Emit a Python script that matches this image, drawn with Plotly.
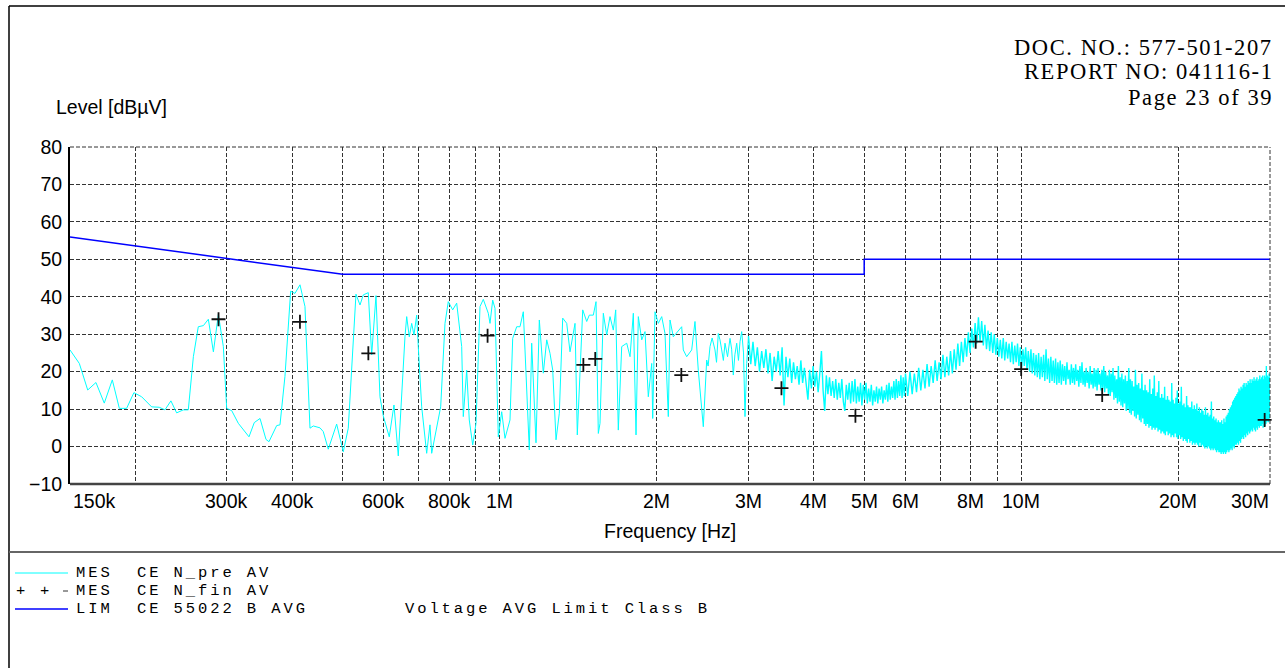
import numpy as np
import plotly.graph_objects as go

W, H = 1285, 668

# ---------------------------------------------------------------------------
# MES CE N_pre AV : pre-scan, 150 kHz ... 3 MHz (kHz, dBµV)
pre_lo_khz = [
    150.0, 156.3, 162.2, 168.2, 174.5, 180.8, 186.5, 192.6, 198.9, 205.8,
    215.1, 222.4, 228.1, 234.2, 240.2, 247.4, 252.9, 258.6, 264.3, 270.3,
    276.3, 282.5, 288.8, 295.2, 299.6, 306.3, 315.4, 330.6, 338.4, 347.1,
    356.4, 361.1, 373.6, 379.1, 387.5, 397.4, 405.0, 414.1, 423.3, 432.8,
    439.1, 452.3, 458.9, 469.2, 486.9, 501.3, 512.5, 530.2, 539.7, 547.6,
    559.8, 568.3, 579.2, 589.5, 598.1, 614.2, 627.1, 639.1, 658.3, 663.3,
    670.9, 678.1, 685.0, 693.2, 698.1, 708.7, 724.5, 735.1, 740.7, 757.2,
    770.7, 785.5, 797.0, 812.7, 827.1, 845.6, 851.6, 864.5, 874.4, 887.7,
    900.8, 916.8, 930.3, 951.0, 958.2, 969.7, 979.6, 994.0, 1009.0, 1023.8,
    1046.6, 1059.2, 1078.1, 1093.9, 1110.0, 1118.3, 1139.8, 1151.9, 1174.0, 1191.3,
    1212.5, 1230.9, 1248.9, 1263.9, 1282.5, 1301.3, 1320.9, 1344.5, 1364.3, 1394.7,
    1408.9, 1442.9, 1468.6, 1485.5, 1512.0, 1530.2, 1545.8, 1557.3, 1580.3, 1604.1,
    1627.6, 1651.5, 1669.2, 1688.4, 1714.0, 1752.3, 1778.1, 1804.2, 1825.8, 1844.4,
    1872.3, 1899.8, 1927.6, 1956.8, 1965.4, 1985.5, 2014.6, 2045.1, 2075.1, 2105.5,
    2121.4, 2152.5, 2200.5, 2233.8, 2249.6, 2283.6, 2334.6, 2368.8, 2403.6, 2457.3,
    2494.5, 2510.0, 2531.1, 2555.0, 2587.5, 2605.0, 2625.5, 2645.0, 2665.2, 2685.0,
    2704.5, 2735.0, 2764.8, 2785.0, 2805.3, 2825.0, 2847.8, 2870.0, 2890.0, 2911.4,
    2935.0, 2954.0, 2976.2,
]
pre_lo_dbuv = [
    25.8, 22.2, 15.1, 17.1, 11.6, 17.8, 10.2, 10.2, 14.4, 13.3,
    10.6, 10.5, 9.8, 12.2, 9.0, 9.8, 9.8, 24.0, 32.0, 32.3,
    34.0, 25.3, 35.3, 26.7, 10.2, 9.6, 6.2, 2.6, 6.4, 7.5,
    1.9, 1.3, 5.6, 5.8, 18.7, 41.5, 40.9, 43.2, 37.4, 4.9,
    5.5, 5.0, 4.0, -0.7, 6.0, -1.4, 4.9, 40.7, 37.8, 40.5,
    41.1, 24.5, 40.3, 13.3, 8.2, 2.6, 11.1, -2.5, 29.3, 34.7,
    29.3, 32.9, 29.8, 35.1, 26.7, 10.6, -1.8, 5.8, -1.8, 5.3,
    10.6, 32.9, 38.7, 36.5, 38.3, 26.7, 8.0, 20.4, 7.1, 0.4,
    6.2, 37.4, 39.3, 35.6, 32.9, 39.1, 36.9, 2.6, 9.3, 2.2,
    7.1, 28.9, 32.0, 32.0, 36.0, 25.8, -0.9, 27.6, 1.0, 33.8,
    19.6, 28.5, 24.9, 20.4, 1.8, 8.9, 34.3, 32.9, 25.3, 32.9,
    3.1, 36.5, 33.4, 35.1, 35.1, 38.7, 3.5, 6.2, 35.6, 29.8,
    34.7, 31.1, 36.5, 4.4, 26.7, 27.6, 24.0, 35.6, 3.1, 34.7,
    28.5, 30.7, 13.3, 22.2, 7.5, 36.0, 32.9, 34.7, 30.2, 8.0,
    33.8, 29.3, 31.1, 32.0, 25.8, 24.0, 25.8, 33.4, 20.4, 5.3,
    23.1, 21.5, 26.7, 29.0, 25.8, 22.5, 30.2, 28.5, 25.8, 23.0,
    27.6, 24.0, 28.9, 26.0, 19.1, 24.5, 27.6, 23.0, 28.0, 30.7,
    25.0, 8.0, 22.2,
]

# pre-scan, 3 MHz ... 6 MHz (MHz, dBµV)
pre_a_mhz = [
    3.00, 3.03, 3.06, 3.09, 3.12, 3.15, 3.18, 3.21, 3.24, 3.27,
    3.30, 3.33, 3.36, 3.39, 3.42, 3.45, 3.48, 3.51, 3.54, 3.57,
    3.60, 3.63, 3.66, 3.69, 3.72, 3.75, 3.78, 3.81, 3.84, 3.87,
    3.90, 3.93, 3.96, 3.99, 4.02, 4.05, 4.08, 4.11, 4.14, 4.17,
    4.20, 4.23, 4.26, 4.29, 4.32, 4.35, 4.38, 4.41, 4.44, 4.47,
    4.50, 4.53, 4.56, 4.59, 4.62, 4.65, 4.68, 4.71, 4.74, 4.77,
    4.80, 4.83, 4.86, 4.89, 4.92, 4.95, 4.98, 5.01, 5.04, 5.07,
    5.10, 5.13, 5.16, 5.19, 5.22, 5.25, 5.28, 5.31, 5.34, 5.37,
    5.40, 5.43, 5.46, 5.49, 5.52, 5.55, 5.58, 5.61, 5.64, 5.67,
    5.70, 5.73, 5.76, 5.79, 5.82, 5.85, 5.88, 5.91, 5.94, 5.97,
    6.00,
]
pre_a_dbuv = [
    29.5, 22.0, 28.0, 21.5, 26.5, 20.0, 25.5, 21.0, 26.0, 19.5,
    25.0, 17.5, 24.0, 20.0, 25.5, 19.0, 26.5, 11.0, 24.0, 18.5,
    23.5, 17.0, 22.5, 18.0, 21.5, 16.5, 23.0, 17.0, 21.0, 16.0,
    12.5, 20.5, 15.5, 21.5, 16.0, 20.0, 14.5, 19.5, 25.5, 15.0,
    9.5, 19.0, 14.0, 18.5, 13.5, 17.5, 13.0, 18.0, 12.5, 17.0,
    13.0, 18.0, 12.0, 9.5, 16.5, 12.5, 17.0, 11.5, 17.5, 12.0,
    18.0, 11.5, 16.0, 12.0, 17.0, 11.0, 16.5, 12.5, 17.0, 11.5,
    15.5, 12.0, 16.5, 11.0, 15.0, 12.0, 16.0, 11.5, 15.5, 12.5,
    16.0, 11.5, 15.0, 12.5, 16.5, 12.0, 17.0, 12.5, 16.0, 13.0,
    17.5, 12.5, 18.0, 13.0, 17.5, 13.5, 19.0, 13.0, 18.5, 13.5,
    19.5,
]

# pre-scan, 6 MHz ... 12 MHz (MHz, dBµV)
pre_b_mhz = [
    6.06, 6.12, 6.18, 6.24, 6.30, 6.36, 6.42, 6.48, 6.54, 6.60,
    6.66, 6.72, 6.78, 6.84, 6.90, 6.96, 7.02, 7.08, 7.14, 7.20,
    7.26, 7.32, 7.38, 7.44, 7.50, 7.56, 7.62, 7.68, 7.74, 7.80,
    7.86, 7.92, 7.98, 8.04, 8.10, 8.16, 8.22, 8.28, 8.34, 8.40,
    8.46, 8.52, 8.58, 8.64, 8.70, 8.76, 8.82, 8.88, 8.94, 9.00,
    9.06, 9.12, 9.18, 9.24, 9.30, 9.36, 9.42, 9.48, 9.54, 9.60,
    9.66, 9.72, 9.78, 9.84, 9.90, 9.96, 10.02, 10.08, 10.14, 10.20,
    10.26, 10.32, 10.38, 10.44, 10.50, 10.56, 10.62, 10.68, 10.74, 10.80,
    10.86, 10.92, 10.98, 11.04, 11.10, 11.16, 11.22, 11.28, 11.34, 11.40,
    11.46, 11.52, 11.58, 11.64, 11.70, 11.76, 11.82, 11.88, 11.94, 12.00,
]
pre_b_dbuv = [
    13.5, 20.0, 14.0, 19.5, 14.5, 21.0, 15.0, 20.5, 15.5, 22.0,
    16.0, 21.5, 17.0, 23.0, 17.5, 22.5, 18.0, 24.5, 18.5, 24.0,
    19.0, 25.5, 19.5, 26.0, 20.5, 27.5, 21.5, 28.0, 22.5, 29.0,
    24.0, 30.5, 25.0, 31.5, 26.5, 33.0, 27.5, 34.5, 28.0, 33.5,
    27.0, 32.5, 26.0, 31.0, 25.5, 30.5, 25.0, 30.0, 24.5, 29.0,
    24.0, 28.5, 23.5, 29.0, 23.0, 28.0, 23.5, 27.5, 22.5, 28.0,
    22.0, 27.0, 22.5, 27.5, 21.5, 26.5, 21.0, 26.0, 21.5, 26.5,
    20.5, 25.5, 20.0, 26.0, 19.5, 25.0, 19.0, 24.5, 18.5, 25.0,
    18.0, 24.0, 18.5, 24.5, 17.5, 26.0, 18.0, 23.5, 17.0, 24.0,
    17.5, 23.0, 17.0, 23.5, 16.5, 22.5, 17.0, 23.0, 16.5, 22.0,
]

# pre-scan, 12 MHz ... 30 MHz (MHz, dBµV)
pre_c_mhz = [
    12.06, 12.12, 12.18, 12.24, 12.30, 12.36, 12.42, 12.48, 12.54, 12.60,
    12.66, 12.72, 12.78, 12.84, 12.90, 12.96, 13.02, 13.08, 13.14, 13.20,
    13.26, 13.32, 13.38, 13.44, 13.50, 13.56, 13.62, 13.68, 13.74, 13.80,
    13.86, 13.92, 13.98, 14.04, 14.10, 14.16, 14.22, 14.28, 14.34, 14.40,
    14.46, 14.52, 14.58, 14.64, 14.70, 14.76, 14.82, 14.88, 14.94, 15.00,
    15.06, 15.12, 15.18, 15.24, 15.30, 15.36, 15.42, 15.48, 15.54, 15.60,
    15.66, 15.72, 15.78, 15.84, 15.90, 15.96, 16.02, 16.08, 16.14, 16.20,
    16.26, 16.32, 16.38, 16.44, 16.50, 16.56, 16.62, 16.68, 16.74, 16.80,
    16.86, 16.92, 16.98, 17.04, 17.10, 17.16, 17.22, 17.28, 17.34, 17.40,
    17.46, 17.52, 17.58, 17.64, 17.70, 17.76, 17.82, 17.88, 17.94, 18.00,
    18.06, 18.12, 18.18, 18.24, 18.30, 18.36, 18.42, 18.48, 18.54, 18.60,
    18.66, 18.72, 18.78, 18.84, 18.90, 18.96, 19.02, 19.08, 19.14, 19.20,
    19.26, 19.32, 19.38, 19.44, 19.50, 19.56, 19.62, 19.68, 19.74, 19.80,
    19.86, 19.92, 19.98, 20.04, 20.10, 20.16, 20.22, 20.28, 20.34, 20.40,
    20.46, 20.52, 20.58, 20.64, 20.70, 20.76, 20.82, 20.88, 20.94, 21.00,
    21.06, 21.12, 21.18, 21.24, 21.30, 21.36, 21.42, 21.48, 21.54, 21.60,
    21.66, 21.72, 21.78, 21.84, 21.90, 21.96, 22.02, 22.08, 22.14, 22.20,
    22.26, 22.32, 22.38, 22.44, 22.50, 22.56, 22.62, 22.68, 22.74, 22.80,
    22.86, 22.92, 22.98, 23.04, 23.10, 23.16, 23.22, 23.28, 23.34, 23.40,
    23.46, 23.52, 23.58, 23.64, 23.70, 23.76, 23.82, 23.88, 23.94, 24.00,
    24.06, 24.12, 24.18, 24.24, 24.30, 24.36, 24.42, 24.48, 24.54, 24.60,
    24.66, 24.72, 24.78, 24.84, 24.90, 24.96, 25.02, 25.08, 25.14, 25.20,
    25.26, 25.32, 25.38, 25.44, 25.50, 25.56, 25.62, 25.68, 25.74, 25.80,
    25.86, 25.92, 25.98, 26.04, 26.10, 26.16, 26.22, 26.28, 26.34, 26.40,
    26.46, 26.52, 26.58, 26.64, 26.70, 26.76, 26.82, 26.88, 26.94, 27.00,
    27.06, 27.12, 27.18, 27.24, 27.30, 27.36, 27.42, 27.48, 27.54, 27.60,
    27.66, 27.72, 27.78, 27.84, 27.90, 27.96, 28.02, 28.08, 28.14, 28.20,
    28.26, 28.32, 28.38, 28.44, 28.50, 28.56, 28.62, 28.68, 28.74, 28.80,
    28.86, 28.92, 28.98, 29.04, 29.10, 29.16, 29.22, 29.28, 29.34, 29.40,
    29.46, 29.52, 29.58, 29.64, 29.70, 29.76, 29.82, 29.88, 29.94, 30.00,
]
pre_c_dbuv = [
    17.5, 21.5, 16.5, 22.5, 18.0, 20.5, 16.5, 22.0, 17.0, 21.0,
    16.5, 22.0, 17.5, 20.5, 16.0, 21.5, 17.0, 22.5, 16.5, 20.0,
    16.0, 21.0, 17.0, 20.0, 15.5, 21.5, 16.5, 19.5, 15.5, 21.0,
    16.0, 20.5, 15.0, 21.0, 16.5, 19.5, 15.0, 20.5, 15.5, 21.5,
    14.5, 20.0, 15.5, 19.0, 14.0, 20.5, 13.5, 19.5, 14.5, 21.0,
    12.5, 19.0, 13.0, 18.0, 11.5, 21.5, 12.0, 18.5, 11.0, 19.5,
    10.5, 18.0, 11.5, 19.0, 9.5, 17.5, 10.0, 21.0, 9.0, 18.0,
    8.5, 17.5, 9.5, 16.0, 8.0, 20.5, 7.5, 16.5, 8.5, 17.0,
    7.0, 15.5, 6.5, 19.5, 7.5, 15.0, 6.0, 16.5, 5.5, 15.0,
    6.0, 14.5, 5.0, 18.0, 5.5, 14.0, 4.5, 15.5, 5.0, 19.0,
    4.5, 13.5, 5.0, 14.5, 4.0, 17.5, 4.5, 13.0, 3.5, 14.0,
    4.0, 13.0, 3.5, 16.0, 3.0, 12.5, 4.0, 13.5, 3.0, 12.5,
    3.5, 12.0, 2.5, 17.0, 3.0, 12.5, 2.5, 11.5, 3.5, 13.0,
    2.5, 15.0, 2.0, 11.5, 3.0, 12.0, 2.0, 16.0, 2.5, 11.0,
    1.5, 11.5, 2.0, 10.5, 1.5, 13.5, 1.0, 11.0, 2.0, 10.5,
    1.0, 10.5, 1.5, 12.0, 0.5, 10.0, 1.0, 11.0, 0.5, 10.0,
    1.0, 11.5, 0.5, 9.5, 0.0, 10.5, 1.0, 9.0, 0.0, 10.0,
    0.5, 9.5, 0.0, 8.5, -0.5, 10.5, 0.0, 8.5, -0.5, 9.0,
    0.0, 8.0, -0.5, 8.5, -1.0, 12.0, -0.5, 7.5, -1.0, 8.0,
    -0.5, 7.0, -1.0, 7.5, -1.5, 6.5, -1.0, 7.0, -1.5, 6.5,
    -1.5, 6.5, -2.0, 7.0, -1.5, 6.0, -2.0, 7.5, -1.5, 6.5,
    -2.0, 8.0, -1.5, 8.5, -1.0, 9.0, -1.5, 10.0, -1.0, 10.5,
    -0.5, 11.0, -1.0, 12.0, 0.0, 12.5, -0.5, 13.0, 0.5, 13.5,
    0.5, 14.0, 1.0, 14.5, 0.5, 15.5, 1.5, 15.0, 1.0, 16.0,
    2.0, 15.5, 2.5, 16.5, 2.0, 17.0, 3.0, 16.0, 2.5, 17.0,
    3.5, 16.5, 3.0, 17.5, 4.0, 17.0, 3.5, 18.0, 4.0, 17.0,
    4.5, 18.0, 4.0, 17.5, 5.0, 18.5, 4.5, 17.5, 4.0, 18.0,
    5.0, 18.5, 4.5, 17.5, 5.5, 18.0, 5.0, 19.0, 5.5, 18.0,
    5.5, 18.5, 6.0, 19.0, 5.0, 18.0, 6.5, 19.0, 5.5, 18.5,
    6.0, 21.5, 6.5, 19.0, 7.0, 18.5, 6.5, 19.5, 7.5, 18.5,
]

# MES CE N_fin AV : final average measurements (kHz, dBµV)
fin_khz = [150, 289, 414, 560, 948, 1447, 1525, 2230, 3470, 4810,
           8180, 10000, 14300, 29300]
fin_dbuv = [20.4, 34.0, 33.3, 24.9, 29.6, 21.8, 23.4, 19.1, 15.6, 8.2,
            28.0, 20.7, 13.8, 7.1]

# LIM CE 55022 B AVG (kHz, dBµV)
lim_khz = [150, 500, 5000, 5000, 30000]
lim_dbuv = [56, 46, 46, 50, 50]

# axis grid and tick labels
grid_hz = [150e3, 200e3, 300e3, 400e3, 500e3, 600e3, 700e3, 800e3, 900e3,
           1e6, 2e6, 3e6, 4e6, 5e6, 6e6, 7e6, 8e6, 9e6, 10e6, 20e6, 30e6]
tick_hz = [150e3, 300e3, 400e3, 600e3, 800e3, 1e6, 2e6, 3e6, 4e6, 5e6,
           6e6, 8e6, 10e6, 20e6, 30e6]
tick_text = ["150k", "300k", "400k", "600k", "800k", "1M", "2M", "3M", "4M",
             "5M", "6M", "8M", "10M", "20M", "30M"]
level_ticks = [-10, 0, 10, 20, 30, 40, 50, 60, 70, 80]

for a, b in [(pre_lo_khz, pre_lo_dbuv), (pre_a_mhz, pre_a_dbuv),
             (pre_b_mhz, pre_b_dbuv), (pre_c_mhz, pre_c_dbuv),
             (fin_khz, fin_dbuv), (lim_khz, lim_dbuv), (tick_hz, tick_text)]:
    assert len(a) == len(b), (len(a), len(b))

lo_hz = [f * 1e3 for f in pre_lo_khz]
hi_hz = ([f * 1e6 for f in pre_a_mhz] + [f * 1e6 for f in pre_b_mhz]
         + [f * 1e6 for f in pre_c_mhz])
hi_dbuv = pre_a_dbuv + pre_b_dbuv + pre_c_dbuv

SANS = "Liberation Sans, Arial, sans-serif"
SERIF = "Liberation Serif, Times New Roman, serif"
MONO = "Liberation Mono, Courier New, monospace"


def px(x):
    return x / W


def py(y):
    return 1 - y / H


def spaced(text, gap):
    return '<span style="letter-spacing:%.2fpx">%s</span>' % (gap, text)


fig = go.Figure()
# low band: individual sweep points are a few pixels apart
fig.add_trace(go.Scatter(x=lo_hz + hi_hz[:1], y=pre_lo_dbuv + hi_dbuv[:1],
                         mode="lines", line=dict(color="#00ffff", width=1),
                         hoverinfo="skip"))
# high band: sweep points crowd together into a solid band
fig.add_trace(go.Scatter(x=hi_hz, y=hi_dbuv, mode="lines",
                         line=dict(color="#00ffff", width=1.4),
                         hoverinfo="skip"))
fig.add_trace(go.Scatter(x=[f * 1e3 for f in lim_khz], y=lim_dbuv, mode="lines",
                         line=dict(color="#0000ff", width=1.5),
                         hoverinfo="skip"))
fig.add_trace(go.Scatter(x=[f * 1e3 for f in fin_khz], y=fin_dbuv, mode="markers",
                         marker=dict(symbol="cross-thin", size=10,
                                     line=dict(color="#111111", width=1.8)),
                         cliponaxis=False, hoverinfo="skip"))

grid = dict(showgrid=True, gridcolor="#333333", gridwidth=1, griddash="4px,2px",
            zeroline=False, automargin=False)
fig.update_xaxes(type="log", range=[np.log10(150e3), np.log10(30e6)],
                 domain=[px(70), px(1270)], tickvals=grid_hz,
                 showticklabels=False, ticks="", showline=False, **grid)
fig.update_yaxes(range=[-10, 80], domain=[py(484), py(147)],
                 tickvals=level_ticks, ticks="", ticklabelstandoff=2,
                 tickfont=dict(family=SANS, size=19.5, color="#000000"),
                 showline=True, linecolor="#000000", linewidth=2, **grid)

shapes = [
    # plot frame: solid bottom, dashed top and right
    dict(type="line", xref="x domain", yref="y domain", x0=0, x1=1, y0=0, y1=0,
         line=dict(color="#444444", width=2.5)),
    dict(type="line", xref="x domain", yref="y domain", x0=0, x1=1, y0=1, y1=1,
         line=dict(color="#333333", width=1, dash="4px,2px")),
    dict(type="line", xref="x domain", yref="y domain", x0=1, x1=1, y0=0, y1=1,
         line=dict(color="#333333", width=1, dash="4px,2px")),
    # page frame and legend separator
    dict(type="line", xref="paper", yref="paper", x0=px(9), x1=1, y0=py(6), y1=py(6),
         line=dict(color="#000000", width=1.5)),
    dict(type="line", xref="paper", yref="paper", x0=px(9), x1=px(9), y0=0, y1=py(6),
         line=dict(color="#000000", width=1.5)),
    dict(type="line", xref="paper", yref="paper", x0=px(9), x1=1, y0=py(552), y1=py(552),
         line=dict(color="#666666", width=2)),
    # legend samples
    dict(type="line", xref="paper", yref="paper", x0=px(15), x1=px(68), y0=py(573), y1=py(573),
         line=dict(color="#00ffff", width=1)),
    dict(type="line", xref="paper", yref="paper", x0=px(63), x1=px(68), y0=py(591), y1=py(591),
         line=dict(color="#333333", width=1)),
    dict(type="line", xref="paper", yref="paper", x0=px(15), x1=px(68), y0=py(609), y1=py(609),
         line=dict(color="#0000ff", width=1.5)),
]

ann = []
# frequency tick labels
for f, t in zip(tick_hz, tick_text):
    anchor, shift = "center", 0
    if f == tick_hz[0]:
        anchor, shift = "left", 1
    elif f == tick_hz[-1]:
        anchor, shift = "right", 1
    ann.append(dict(x=np.log10(f), xref="x", y=py(501), yref="paper", text=t,
                    xanchor=anchor, yanchor="middle", xshift=shift, showarrow=False,
                    font=dict(family=SANS, size=19.5, color="#000000")))
ann.append(dict(x=px(670), y=py(531), xref="paper", yref="paper", text="Frequency [Hz]",
                xanchor="center", yanchor="middle", showarrow=False,
                font=dict(family=SANS, size=19.5, color="#000000")))
ann.append(dict(x=px(54), y=py(107), xref="paper", yref="paper", text="Level [dBµV]",
                xanchor="left", yanchor="middle", showarrow=False,
                font=dict(family=SANS, size=19.5, color="#000000")))
# document header
for t, y in [("DOC. NO.: 577-501-207", 47), ("REPORT NO: 041116-1", 72),
             ("Page 23 of 39", 97)]:
    ann.append(dict(x=px(1275), y=py(y), xref="paper", yref="paper",
                    text=spaced(t, 1.6), xanchor="right", yanchor="middle",
                    showarrow=False, font=dict(family=SERIF, size=22.5, color="#000000")))
# legend block
NB = "\u00a0"
legend_rows = [
    ("MES" + NB * 2 + "CE N_pre AV", 573),
    ("MES" + NB * 2 + "CE N_fin AV", 591),
    ("LIM" + NB * 2 + "CE 55022 B AVG", 609),
]
for t, y in legend_rows:
    ann.append(dict(x=px(74), y=py(y), xref="paper", yref="paper", text=spaced(t, 2.9),
                    xanchor="left", yanchor="middle", showarrow=False,
                    font=dict(family=MONO, size=15.5, color="#000000")))
ann.append(dict(x=px(403), y=py(609), xref="paper", yref="paper",
                text=spaced("Voltage AVG Limit Class B", 2.9), xanchor="left",
                yanchor="middle", showarrow=False,
                font=dict(family=MONO, size=15.5, color="#000000")))
for x in (20, 44):
    ann.append(dict(x=px(x), y=py(591), xref="paper", yref="paper", text="+",
                    xanchor="center", yanchor="middle", showarrow=False,
                    font=dict(family=MONO, size=15.5, color="#000000")))

fig.update_layout(width=W, height=H, margin=dict(l=0, r=0, t=0, b=0, pad=0),
                  paper_bgcolor="#ffffff", plot_bgcolor="#ffffff",
                  showlegend=False, shapes=shapes, annotations=ann)

fig.write_html("out.html", config={"displayModeBar": False})
